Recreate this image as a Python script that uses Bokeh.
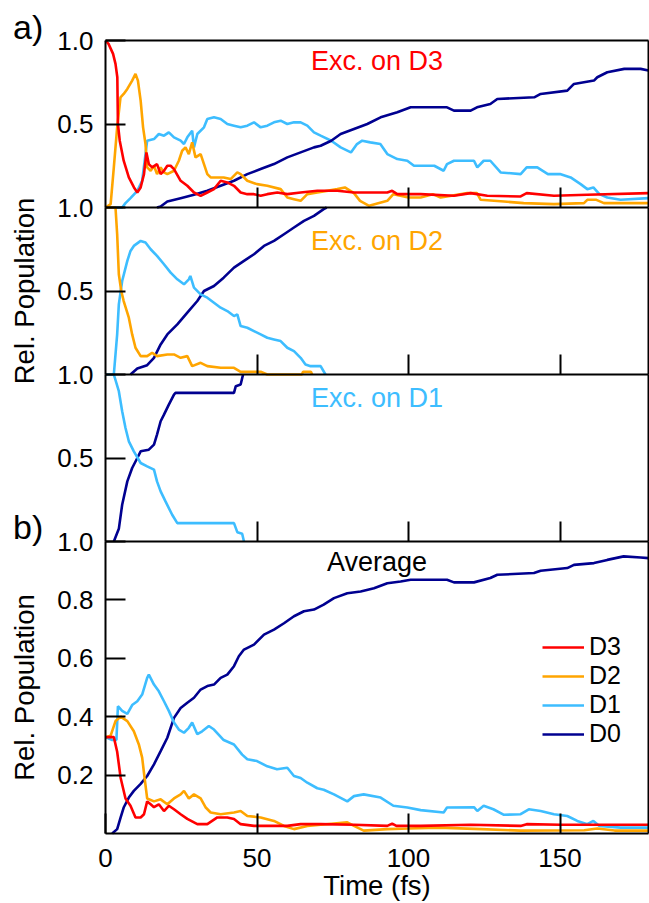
from bokeh.plotting import figure
from bokeh.models import (Range1d, LinearAxis, FixedTicker, Label, Legend,
                          LegendItem, NumeralTickFormatter)
from bokeh.embed import file_html
from bokeh.resources import INLINE

FONT = "Liberation Sans"
RED, ORANGE, LBLUE, NAVY = "#FF0000", "#FFA500", "#3DBDFF", "#000090"

# ---------------- data (time in fs, relative population) ----------------
X_MAX = 179.2
x_ticks = [0, 50, 100, 150]
top_y_ticks = [0.5, 1.0]
avg_y_ticks = [0.2, 0.4, 0.6, 0.8, 1.0]

# a) Excitation on D3
exc3_D3 = [(0, 1.0), (1, 0.98), (2.5, 0.92), (3.3, 0.86), (3.9, 0.78), (4.1, 0.50), (4.7, 0.40),
           (6.0, 0.28), (7.7, 0.18), (9.4, 0.12), (10.5, 0.09), (11.6, 0.12), (12.7, 0.20),
           (13.5, 0.33), (14.3, 0.26), (15.4, 0.24), (17, 0.26), (18.2, 0.20), (19.3, 0.22),
           (20.4, 0.25), (21.5, 0.25), (22.6, 0.23), (24.8, 0.16), (27, 0.13), (29.2, 0.09),
           (31.4, 0.07), (33.6, 0.09), (35.8, 0.11), (38, 0.16), (40.2, 0.15), (42.4, 0.13),
           (44.6, 0.09), (46.8, 0.08), (49, 0.08), (51.2, 0.07), (53.4, 0.08), (56.7, 0.09),
           (60, 0.08), (64.4, 0.09), (69.9, 0.10), (76.5, 0.10), (82, 0.09), (93, 0.09),
           (94.6, 0.10), (96.3, 0.08), (104, 0.08), (115, 0.07), (120.5, 0.086), (126, 0.07),
           (137, 0.066), (139, 0.086), (148, 0.07), (159, 0.076), (179.2, 0.086)]
exc3_D2 = [(0, 0.0), (1.7, 0.02), (2.75, 0.24), (3.85, 0.48), (4.95, 0.66), (6, 0.68), (7.2, 0.71),
           (8.8, 0.76), (9.9, 0.80), (10.7, 0.76), (11.6, 0.64), (12.4, 0.48), (13.2, 0.38),
           (13.75, 0.24), (14.9, 0.22), (16, 0.25), (17, 0.20), (18.2, 0.24), (19.3, 0.21),
           (20.4, 0.20), (22.6, 0.22), (24.2, 0.28), (25.3, 0.34), (26.4, 0.36), (27.5, 0.32),
           (28.6, 0.39), (29.7, 0.30), (31.4, 0.32), (32.5, 0.26), (33.6, 0.20), (34.7, 0.18),
           (36.9, 0.18), (39, 0.18), (41.3, 0.17), (43.5, 0.21), (44.6, 0.20), (46.8, 0.16),
           (50, 0.14), (53.4, 0.13), (57.8, 0.11), (60, 0.06), (62.2, 0.05), (64.4, 0.04),
           (66.6, 0.08), (69.9, 0.09), (76.5, 0.11), (79, 0.12), (82, 0.086), (84, 0.04),
           (87, 0.01), (93, 0.04), (95, 0.08), (100, 0.06), (104, 0.06), (108, 0.08),
           (110.6, 0.06), (119.4, 0.086), (122.6, 0.086), (123.8, 0.046), (131.5, 0.036),
           (138, 0.026), (148, 0.02), (157.9, 0.026), (159, 0.046), (162, 0.046), (164.5, 0.026),
           (179.2, 0.026)]
exc3_D1 = [(0, 0.0), (5.5, 0.0), (6.6, 0.026), (8.25, 0.056), (10.5, 0.10), (12.1, 0.16),
           (13.2, 0.32), (13.75, 0.40), (16, 0.41), (17.6, 0.44), (19.3, 0.43), (20.9, 0.45),
           (22.6, 0.42), (24.8, 0.40), (25.9, 0.38), (27, 0.42), (28.6, 0.46), (29.2, 0.36),
           (30.3, 0.44), (32.5, 0.48), (33.6, 0.53), (35.8, 0.54), (38, 0.53), (40.2, 0.50),
           (42.4, 0.49), (44.6, 0.48), (46.8, 0.49), (49, 0.51), (51.2, 0.48), (53.4, 0.49),
           (55.6, 0.51), (57.8, 0.52), (60, 0.50), (62.2, 0.51), (64.4, 0.51), (66.6, 0.49),
           (68.8, 0.45), (71, 0.43), (74.5, 0.40), (77.6, 0.36), (81, 0.33), (83, 0.38),
           (84.7, 0.40), (87.4, 0.39), (90.7, 0.38), (93, 0.32), (96.3, 0.29), (99.6, 0.28),
           (101.8, 0.25), (108.5, 0.25), (111.6, 0.22), (112.7, 0.26), (115, 0.28), (121.6, 0.28),
           (122.7, 0.24), (124.8, 0.28), (127, 0.28), (130.4, 0.21), (137, 0.20), (139, 0.24),
           (142.5, 0.24), (146, 0.20), (150, 0.20), (153.5, 0.18), (156.8, 0.14), (159, 0.11),
           (161, 0.12), (163, 0.08), (165.6, 0.06), (170, 0.046), (179.2, 0.056)]
exc3_D0 = [(17, 0.0), (18.2, 0.006), (20.4, 0.036), (24.8, 0.056), (29.2, 0.076), (33.6, 0.10),
           (38, 0.13), (42.4, 0.16), (46.8, 0.20), (51.2, 0.23), (55.6, 0.26), (60, 0.30),
           (64.4, 0.33), (68.8, 0.36), (71, 0.37), (74.5, 0.40), (77.6, 0.44), (82, 0.47),
           (86.4, 0.50), (90.8, 0.54), (96.3, 0.57), (100.7, 0.60), (112.7, 0.60), (115, 0.58),
           (120.5, 0.58), (122.6, 0.60), (127, 0.62), (129.3, 0.65), (141.5, 0.66), (143.6, 0.68),
           (152.4, 0.70), (154.6, 0.74), (161.2, 0.76), (162.3, 0.78), (165.6, 0.81),
           (171.2, 0.83), (176.6, 0.83), (179.2, 0.82)]

# a) Excitation on D2
exc2_D2 = [(0, 1.0), (3.3, 1.0), (3.85, 0.84), (4.4, 0.60), (5.2, 0.50), (6, 0.44), (7.7, 0.34),
           (8.8, 0.24), (9.9, 0.16), (11.6, 0.11), (13.75, 0.11), (15.4, 0.13), (17, 0.11),
           (20.4, 0.12), (22.6, 0.12), (24.8, 0.10), (27, 0.11), (28.6, 0.05), (31.4, 0.07),
           (33.6, 0.05), (38, 0.04), (42.4, 0.04), (44.6, 0.016), (51.2, 0.016), (53.4, 0.0),
           (64.8, 0.0), (65.2, 0.016), (67.8, 0.016), (68.2, 0.0)]
exc2_D1 = [(2.75, 0.0), (3.85, 0.24), (4.4, 0.42), (5.5, 0.56), (7.2, 0.68), (8.25, 0.74),
           (9.35, 0.77), (11.6, 0.80), (13.2, 0.79), (14.9, 0.75), (17, 0.71), (19.3, 0.66),
           (21.5, 0.61), (23.7, 0.57), (25.9, 0.54), (27.5, 0.57), (28, 0.59), (29.2, 0.52),
           (31.4, 0.48), (33.6, 0.46), (35.8, 0.43), (38, 0.40), (40.2, 0.38), (42.4, 0.35),
           (43.5, 0.36), (44.6, 0.29), (46.8, 0.28), (49, 0.26), (51.2, 0.24), (53.4, 0.22),
           (55.6, 0.21), (57.8, 0.20), (60, 0.16), (62.2, 0.14), (64.4, 0.10), (66, 0.06),
           (67.7, 0.05), (71, 0.05), (72.6, 0.0)]
exc2_D0 = [(8.25, 0.0), (10.5, 0.036), (13.75, 0.056), (16, 0.10), (18.2, 0.18), (20.4, 0.24),
           (23.7, 0.30), (27, 0.37), (30.3, 0.44), (32.5, 0.50), (35.8, 0.53), (39, 0.58),
           (42.4, 0.64), (45.7, 0.68), (49, 0.72), (52.3, 0.77), (55.6, 0.80), (58.9, 0.84),
           (62.2, 0.88), (65.5, 0.92), (68.8, 0.95), (72, 0.99), (73, 1.0)]

# a) Excitation on D1
exc1_D1 = [(0, 1.0), (2.75, 1.0), (4.4, 0.90), (5.5, 0.78), (6.6, 0.68), (7.7, 0.60), (9.35, 0.54),
           (11.6, 0.47), (13.75, 0.45), (16, 0.43), (17, 0.36), (18.2, 0.30), (19.8, 0.24),
           (22, 0.16), (23.7, 0.11), (42.4, 0.11), (43.5, 0.056), (45.1, 0.046), (45.7, 0.0)]
exc1_D0 = [(2.75, 0.0), (4.4, 0.076), (5.5, 0.22), (7.2, 0.36), (8.8, 0.44), (10.5, 0.50),
           (11.6, 0.54), (14.3, 0.55), (16, 0.58), (17, 0.64), (18.2, 0.72), (19.3, 0.76),
           (20.9, 0.82), (22.6, 0.88), (23.1, 0.89), (42.4, 0.89), (43, 0.93), (44.6, 0.94),
           (45.4, 1.0)]

# b) Average
avg_D3 = [(0, 0.33), (2.75, 0.33), (3.85, 0.28), (5, 0.19), (6.6, 0.12), (8.25, 0.095), (9.9, 0.055),
          (11.6, 0.055), (12.7, 0.066), (13.75, 0.11), (14.9, 0.10), (16, 0.09), (17.6, 0.10),
          (19.3, 0.077), (20.9, 0.095), (22.6, 0.083), (24.8, 0.066), (27, 0.05), (30.3, 0.032),
          (33.6, 0.032), (36.9, 0.055), (40.2, 0.055), (42.4, 0.05), (44.6, 0.032), (49, 0.026),
          (53.4, 0.026), (60, 0.026), (64.4, 0.032), (71, 0.032), (82, 0.03), (93, 0.026),
          (94.6, 0.034), (96, 0.026), (104, 0.026), (120.5, 0.03), (137, 0.026), (139, 0.032),
          (150, 0.03), (179.2, 0.03)]
avg_D2 = [(0, 0.33), (1.7, 0.335), (3.3, 0.385), (5, 0.40), (7.2, 0.385), (9.35, 0.35), (11, 0.305),
          (12.1, 0.26), (12.9, 0.19), (13.75, 0.12), (16, 0.11), (18.2, 0.117), (20.4, 0.10),
          (22.6, 0.12), (24.8, 0.134), (25.9, 0.146), (27.5, 0.12), (29.2, 0.134), (31.4, 0.12),
          (33, 0.09), (34.7, 0.072), (38, 0.066), (42.4, 0.072), (44.6, 0.077), (46.8, 0.06),
          (51.2, 0.055), (55.6, 0.043), (58.9, 0.026), (62.2, 0.015), (66.6, 0.026), (71, 0.03),
          (79.8, 0.038), (82, 0.026), (85.2, 0.01), (93, 0.015), (100, 0.017), (110, 0.02),
          (124, 0.015), (137, 0.01), (158, 0.011), (162.3, 0.017), (168, 0.01), (179.2, 0.01)]
avg_D1 = [(0, 0.33), (2.2, 0.32), (3.6, 0.32), (4.1, 0.436), (5.5, 0.42), (7.2, 0.41), (8.8, 0.44),
          (10.5, 0.453), (12.1, 0.476), (13.75, 0.533), (14.3, 0.544), (16, 0.51), (17.6, 0.487),
          (19.3, 0.453), (20.9, 0.42), (22.6, 0.38), (24.2, 0.356), (25.9, 0.345), (27.5, 0.362),
          (28.6, 0.38), (30.3, 0.34), (31.9, 0.35), (34.1, 0.368), (35.8, 0.356), (39, 0.32),
          (42.4, 0.305), (45.1, 0.27), (46.8, 0.254), (50, 0.248), (53.4, 0.23), (56.6, 0.22),
          (60, 0.225), (62.2, 0.197), (64.4, 0.19), (66.6, 0.174), (69.9, 0.155), (72, 0.15),
          (75.4, 0.134), (79.8, 0.11), (82, 0.128), (85.2, 0.134), (90.8, 0.123), (95, 0.095),
          (99.6, 0.089), (104, 0.08), (111.6, 0.072), (112.7, 0.089), (121.6, 0.09),
          (122.7, 0.077), (124.8, 0.095), (128, 0.083), (131.5, 0.064), (137, 0.066),
          (139.7, 0.083), (143.6, 0.077), (148, 0.066), (152.4, 0.06), (155.7, 0.043),
          (159, 0.032), (161, 0.043), (163, 0.026), (170, 0.02), (179.2, 0.02)]
avg_D0 = [(2.2, 0.0), (3.85, 0.015), (5, 0.055), (6, 0.089), (7.7, 0.123), (9.35, 0.146),
          (11.6, 0.17), (13.75, 0.197), (16, 0.237), (18.2, 0.282), (20.4, 0.328), (22.6, 0.396),
          (24.8, 0.43), (27, 0.448), (29.2, 0.465), (31.4, 0.493), (33.6, 0.505), (35.8, 0.51),
          (38, 0.533), (40.2, 0.544), (42.4, 0.573), (44, 0.607), (45.7, 0.63), (49, 0.647),
          (52.3, 0.681), (55.6, 0.698), (58.9, 0.72), (62.2, 0.744), (65.5, 0.761), (68.8, 0.767),
          (72, 0.784), (75.4, 0.806), (79.8, 0.823), (84.2, 0.829), (88.6, 0.84), (93, 0.857),
          (97.4, 0.863), (100.7, 0.869), (112.7, 0.869), (115, 0.86), (121.6, 0.86), (127, 0.875),
          (129.3, 0.886), (141.4, 0.892), (143.6, 0.90), (152.4, 0.909), (154.6, 0.92),
          (161.2, 0.926), (165.6, 0.937), (171, 0.949), (176.6, 0.945), (179.2, 0.943)]

# ---------------- layout: one canvas-wide frame, four stacked panels ----------------
W, H = 649, 903
LEFT = 105                      # pixel of t = 0
PXF = (W - 1 - LEFT) / X_MAX    # pixels per fs
# (bottom pixel, height) of each panel, measured from the top of the canvas
SLOTS = {"p1": (207, 167), "p2": (374, 167), "p3": (541, 167), "default": (833, 292)}


def panel_range(name):
    bottom, h = SLOTS[name]
    return Range1d(-(H - bottom) / h, bottom / h)


p = figure(width=W, height=H, output_backend="svg", toolbar_location=None,
           x_range=Range1d(-LEFT / PXF, (W - LEFT) / PXF), y_range=panel_range("default"),
           x_axis_location=None, y_axis_location=None,
           min_border_left=0, min_border_right=0, min_border_top=0, min_border_bottom=0)
p.extra_y_ranges = {k: panel_range(k) for k in ["p1", "p2", "p3"]}
p.xgrid.visible = False
p.ygrid.visible = False
p.outline_line_color = None
p.background_fill_color = "white"
p.border_fill_color = "white"


def style_axis(ax, labels=True):
    ax.axis_line_color = "black"
    ax.axis_line_width = 2
    ax.major_tick_line_color = "black"
    ax.major_tick_line_width = 2
    ax.major_tick_in = 20
    ax.major_tick_out = 0
    ax.minor_tick_line_color = None
    ax.major_label_text_font = FONT
    ax.major_label_text_font_size = "26px"
    ax.major_label_text_color = "black" if labels else None
    ax.axis_label_text_font = FONT
    ax.axis_label_text_font_size = "27.5px"
    ax.axis_label_text_font_style = "normal"
    ax.axis_label_text_color = "black"


for name in ["p1", "p2", "p3", "default"]:
    is_avg = name == "default"
    # bottom edge of the panel (with inward x ticks)
    bx = LinearAxis(y_range_name=name, fixed_location=0, bounds=(0, X_MAX),
                    ticker=FixedTicker(ticks=x_ticks if is_avg else x_ticks[1:]))
    style_axis(bx, labels=is_avg)
    if is_avg:
        bx.major_label_standoff = 15
        bx.axis_label = "Time (fs)"
        bx.axis_label_standoff = 0
    p.add_layout(bx, "below")
    # left edge of the panel (with inward y ticks)
    ly = LinearAxis(y_range_name=name, fixed_location=0, bounds=(0, 1),
                    ticker=FixedTicker(ticks=avg_y_ticks if is_avg else top_y_ticks),
                    formatter=NumeralTickFormatter(format="0.0"))
    style_axis(ly)
    ly.major_label_standoff = 12
    if name in ("p2", "default"):
        ly.axis_label = "Rel. Population"
        ly.axis_label_standoff = 14
    p.add_layout(ly, "left")
    # right edge
    ry = LinearAxis(y_range_name=name, fixed_location=X_MAX, bounds=(0, 1),
                    ticker=FixedTicker(ticks=[]))
    style_axis(ry, labels=False)
    p.add_layout(ry, "right")

# top edge of the whole figure
tx = LinearAxis(y_range_name="p1", fixed_location=1.0, bounds=(0, X_MAX),
                ticker=FixedTicker(ticks=[]))
style_axis(tx, labels=False)
p.add_layout(tx, "above")

LW = 2.6


def draw(series, color, rng):
    xs = [a for a, _ in series]
    ys = [b for _, b in series]
    return p.line(xs, ys, line_color=color, line_width=LW, y_range_name=rng)


for s, c in [(exc3_D1, LBLUE), (exc3_D0, NAVY), (exc3_D2, ORANGE), (exc3_D3, RED)]:
    draw(s, c, "p1")
for s, c in [(exc2_D0, NAVY), (exc2_D1, LBLUE), (exc2_D2, ORANGE)]:
    draw(s, c, "p2")
for s, c in [(exc1_D0, NAVY), (exc1_D1, LBLUE)]:
    draw(s, c, "p3")
r_d0 = draw(avg_D0, NAVY, "default")
r_d1 = draw(avg_D1, LBLUE, "default")
r_d2 = draw(avg_D2, ORANGE, "default")
r_d3 = draw(avg_D3, RED, "default")

# panel titles
for txt, col, y, rng in [("Exc. on D3", RED, 0.875, "p1"), ("Exc. on D2", ORANGE, 0.80, "p2"),
                         ("Exc. on D1", LBLUE, 0.86, "p3"), ("Average", "black", 0.93, "default")]:
    p.add_layout(Label(x=X_MAX / 2, y=y, y_range_name=rng, text=txt, text_align="center",
                       text_baseline="middle", text_font=FONT, text_font_size="27px",
                       text_color=col))

# part labels
for txt, y, rng in [("a)", 1.08, "p1"), ("b)", 1.05, "default")]:
    p.add_layout(Label(x=-30.5, y=y, y_range_name=rng, text=txt, text_align="left",
                       text_baseline="middle", text_font=FONT, text_font_size="34px",
                       text_color="black"))

legend = Legend(items=[LegendItem(label="D3", renderers=[r_d3]),
                       LegendItem(label="D2", renderers=[r_d2]),
                       LegendItem(label="D1", renderers=[r_d1]),
                       LegendItem(label="D0", renderers=[r_d0])],
                location=(437 + LEFT, 155), background_fill_alpha=0, border_line_color=None,
                label_text_font=FONT, label_text_font_size="25px", label_text_color="black",
                glyph_width=42, glyph_height=28, label_height=28, label_standoff=5,
                padding=0, margin=0, spacing=0)
p.add_layout(legend)

open("out.html", "w").write(file_html(p, INLINE))
